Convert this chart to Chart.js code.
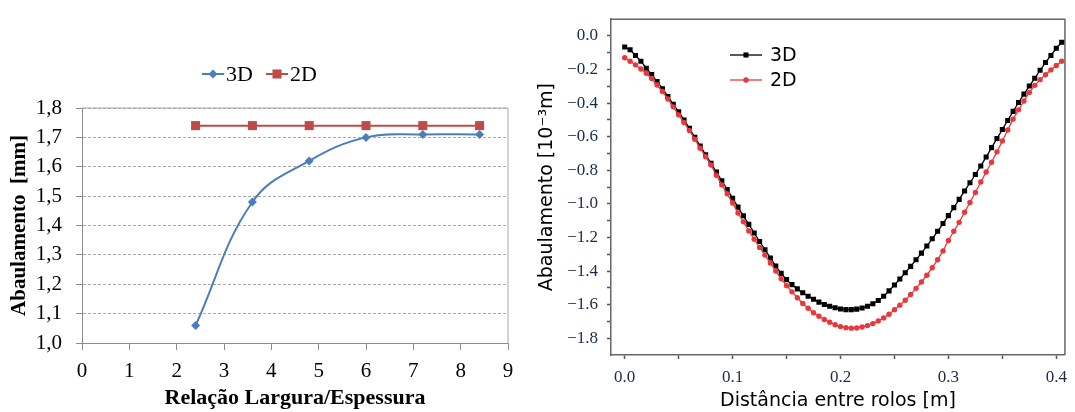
<!DOCTYPE html>
<html>
<head>
    <meta charset="utf-8" />
    <title>Abaulamento 3D x 2D</title>
    <script src="https://cdn.jsdelivr.net/npm/chart.js"></script>
    <style>
        body { margin: 0; background: #fff; }
        #wrap { position: relative; width: 1075px; height: 412px; }
        #leftChart { position: absolute; left: 0; top: 0; }
        #rightChart { position: absolute; left: 530px; top: 0; }
    </style>
</head>
<body>
    <div id="wrap">
        <canvas id="leftChart" width="530" height="412"></canvas>
        <canvas id="rightChart" width="545" height="412"></canvas>
    </div>

    <script>
        // grafico da esquerda: abaulamento x relacao largura/espessura
        const ratioX = [2.4, 3.6, 4.8, 6.0, 7.2, 8.4];
        const crown3D = [1.06, 1.48, 1.62, 1.70, 1.71, 1.71];
        const crown2D = [1.74, 1.74, 1.74, 1.74, 1.74, 1.74];

        // grafico da direita: perfil ao longo da distancia entre rolos
        const distX = [0.000, 0.005, 0.010, 0.015, 0.020, 0.025, 0.030, 0.035, 0.040, 0.045,
            0.050, 0.055, 0.060, 0.065, 0.070, 0.075, 0.080, 0.085, 0.090, 0.095,
            0.100, 0.105, 0.110, 0.115, 0.120, 0.125, 0.130, 0.135, 0.140, 0.145,
            0.150, 0.155, 0.160, 0.165, 0.170, 0.175, 0.180, 0.185, 0.190, 0.195,
            0.200, 0.205, 0.210, 0.215, 0.220, 0.225, 0.230, 0.235, 0.240, 0.245,
            0.250, 0.255, 0.260, 0.265, 0.270, 0.275, 0.280, 0.285, 0.290, 0.295,
            0.300, 0.305, 0.310, 0.315, 0.320, 0.325, 0.330, 0.335, 0.340, 0.345,
            0.350, 0.355, 0.360, 0.365, 0.370, 0.375, 0.380, 0.385, 0.390, 0.395,
            0.400, 0.405];
        const prof3D = [-0.066, -0.082, -0.116, -0.150, -0.192, -0.230, -0.272, -0.314, -0.360, -0.407,
            -0.452, -0.500, -0.550, -0.603, -0.656, -0.707, -0.758, -0.810, -0.862, -0.914,
            -0.966, -1.019, -1.071, -1.122, -1.173, -1.224, -1.273, -1.322, -1.370, -1.414,
            -1.451, -1.481, -1.506, -1.529, -1.550, -1.568, -1.585, -1.599, -1.610, -1.619,
            -1.626, -1.630, -1.630, -1.627, -1.620, -1.610, -1.595, -1.575, -1.550, -1.518,
            -1.483, -1.447, -1.410, -1.372, -1.333, -1.293, -1.251, -1.208, -1.163, -1.117,
            -1.070, -1.022, -0.973, -0.923, -0.874, -0.825, -0.774, -0.721, -0.665, -0.611,
            -0.557, -0.503, -0.449, -0.396, -0.346, -0.298, -0.252, -0.204, -0.158, -0.116,
            -0.073, -0.037];
        const prof2D = [-0.130, -0.150, -0.172, -0.197, -0.222, -0.253, -0.292, -0.331, -0.375, -0.422,
            -0.470, -0.515, -0.563, -0.615, -0.669, -0.719, -0.768, -0.830, -0.887, -0.940,
            -0.995, -1.054, -1.107, -1.161, -1.210, -1.259, -1.305, -1.352, -1.400, -1.446,
            -1.487, -1.524, -1.559, -1.593, -1.622, -1.648, -1.669, -1.689, -1.705, -1.720,
            -1.731, -1.737, -1.740, -1.739, -1.733, -1.725, -1.713, -1.697, -1.679, -1.657,
            -1.630, -1.603, -1.574, -1.540, -1.503, -1.465, -1.425, -1.380, -1.333, -1.280,
            -1.218, -1.163, -1.110, -1.050, -0.992, -0.932, -0.870, -0.810, -0.752, -0.690,
            -0.625, -0.560, -0.495, -0.440, -0.387, -0.336, -0.294, -0.260, -0.231, -0.202,
            -0.176, -0.150];
        const rightYTicks = [0.0, -0.1, -0.2, -0.3, -0.4, -0.5, -0.6, -0.7, -0.8, -0.9,
            -1.0, -1.1, -1.2, -1.3, -1.4, -1.5, -1.6, -1.7, -1.8];
        const rightXTicks = [0.0, 0.05, 0.1, 0.15, 0.2, 0.25, 0.3, 0.35, 0.4];

        function drawMark(ctx, style, r, x, y) {
            ctx.beginPath();
            if (style === 'circle') {
                ctx.arc(x, y, r, 0, Math.PI * 2);
            } else if (style === 'rect') {
                const s = r * Math.SQRT1_2;
                ctx.rect(x - s, y - s, 2 * s, 2 * s);
            } else {
                ctx.moveTo(x - r, y); ctx.lineTo(x, y - r); ctx.lineTo(x + r, y); ctx.lineTo(x, y + r);
                ctx.closePath();
            }
            ctx.fill();
        }

        // moldura do grafico (topo e direita)
        const frame = {
            id: 'frame',
            beforeDatasetsDraw(chart, args, opts) {
                const a = chart.chartArea, ctx = chart.ctx;
                ctx.save();
                ctx.strokeStyle = opts.color;
                ctx.lineWidth = opts.width;
                ctx.beginPath();
                ctx.moveTo(a.left, a.top); ctx.lineTo(a.right, a.top); ctx.lineTo(a.right, a.bottom);
                ctx.stroke();
                ctx.restore();
            }
        };

        // legenda com linha + marcador, na posicao do original
        const inlineLegend = {
            id: 'inlineLegend',
            afterDraw(chart, args, opts) {
                const ctx = chart.ctx;
                ctx.save();
                ctx.font = opts.font;
                ctx.textBaseline = 'middle';
                chart.data.datasets.forEach((ds, i) => {
                    const p = opts.items[i];
                    if (!p) return;
                    ctx.strokeStyle = ds.borderColor;
                    ctx.lineWidth = ds.borderWidth;
                    ctx.beginPath();
                    ctx.moveTo(p.x - opts.lineLen / 2, p.y);
                    ctx.lineTo(p.x + opts.lineLen / 2, p.y);
                    ctx.stroke();
                    ctx.fillStyle = ds.pointBackgroundColor;
                    drawMark(ctx, ds.pointStyle, p.r, p.x, p.y);
                    ctx.fillStyle = opts.color;
                    ctx.fillText(ds.label, p.x + opts.lineLen / 2 + opts.gap, p.y + 1);
                });
                ctx.restore();
            }
        };

        const serif = 'Liberation Serif';

        new Chart(document.getElementById('leftChart').getContext('2d'), {
            type: 'line',
            data: {
                datasets: [{
                    label: '3D',
                    data: ratioX.map((x, i) => ({ x: x, y: crown3D[i] })),
                    borderColor: '#4a7ebb',
                    borderWidth: 2,
                    tension: 0.4,
                    pointStyle: 'rectRot',
                    pointRadius: 4.5,
                    pointBackgroundColor: '#4a7ebb',
                    pointBorderWidth: 0
                }, {
                    label: '2D',
                    data: ratioX.map((x, i) => ({ x: x, y: crown2D[i] })),
                    borderColor: '#be4b48',
                    borderWidth: 2,
                    tension: 0,
                    pointStyle: 'rect',
                    pointRadius: 6.4,
                    pointBackgroundColor: '#be4b48',
                    pointBorderWidth: 0
                }]
            },
            plugins: [frame, inlineLegend],
            options: {
                responsive: false,
                animation: false,
                layout: { padding: { left: 0, top: 108, right: 22, bottom: 0 } },
                plugins: {
                    legend: { display: false },
                    tooltip: { enabled: false },
                    frame: { color: '#a6a6a6', width: 1 },
                    inlineLegend: {
                        font: '22px "Liberation Serif"',
                        color: '#000',
                        lineLen: 22,
                        gap: 2,
                        items: [{ x: 213, y: 74, r: 4.5 }, { x: 277, y: 74, r: 6.4 }]
                    }
                },
                scales: {
                    x: {
                        type: 'linear',
                        min: 0,
                        max: 9,
                        afterFit: s => { s.height = 69; },
                        ticks: { stepSize: 1, autoSkip: false, color: '#000', font: { family: serif, size: 21 }, padding: 9, maxRotation: 0 },
                        grid: { drawOnChartArea: false, drawTicks: true, tickLength: 7, tickColor: '#8c8c8c' },
                        border: { color: '#8c8c8c' },
                        title: {
                            display: true, text: 'Relação Largura/Espessura', color: '#000',
                            font: { family: serif, size: 22, weight: 'bold' }, padding: { top: 0, bottom: 0 }
                        }
                    },
                    y: {
                        min: 1.0,
                        max: 1.8,
                        afterFit: s => { s.width = 82; },
                        ticks: {
                            stepSize: 0.1, autoSkip: false, color: '#000', font: { family: serif, size: 21 }, padding: 14,
                            callback: v => v.toFixed(1).replace('.', ',')
                        },
                        grid: { color: '#a8a8a8', tickLength: 6, tickColor: '#8c8c8c' },
                        border: { color: '#8c8c8c', dash: [3, 2] },
                        title: {
                            display: true, text: 'Abaulamento  [mm]', color: '#000',
                            font: { family: serif, size: 21, weight: 'bold' }, padding: { top: 7, bottom: 0 }
                        }
                    }
                }
            }
        });

        new Chart(document.getElementById('rightChart').getContext('2d'), {
            type: 'line',
            data: {
                datasets: [{
                    label: '3D',
                    data: distX.map((x, i) => ({ x: x, y: prof3D[i] })),
                    borderColor: '#000',
                    borderWidth: 1.3,
                    pointStyle: 'rect',
                    pointRadius: 3.6,
                    pointBackgroundColor: '#000',
                    pointBorderWidth: 0,
                    order: 2
                }, {
                    label: '2D',
                    data: distX.map((x, i) => ({ x: x, y: prof2D[i] })),
                    borderColor: '#e8383d',
                    borderWidth: 1.3,
                    pointStyle: 'circle',
                    pointRadius: 2.7,
                    pointBackgroundColor: '#e8383d',
                    pointBorderWidth: 0,
                    order: 1
                }]
            },
            plugins: [frame, inlineLegend],
            options: {
                responsive: false,
                animation: false,
                layout: { padding: { left: 0, top: 12, right: 3, bottom: 0 } },
                plugins: {
                    legend: { display: false },
                    tooltip: { enabled: false },
                    frame: { color: '#666', width: 1.5 },
                    inlineLegend: {
                        font: '19px "DejaVu Sans"',
                        color: '#000',
                        lineLen: 32,
                        gap: 8,
                        items: [{ x: 216, y: 55, r: 3.6 }, { x: 216, y: 80, r: 2.7 }]
                    }
                },
                scales: {
                    x: {
                        type: 'linear',
                        min: -0.0127,
                        max: 0.408,
                        afterFit: s => { s.height = 57; },
                        afterBuildTicks: s => { s.ticks = rightXTicks.map(v => ({ value: v })); },
                        ticks: {
                            autoSkip: false, maxRotation: 0, color: '#1c2a48', font: { family: serif, size: 17 }, padding: 8,
                            callback: v => (Math.round(v * 100) % 10 === 0 ? v.toFixed(1) : '')
                        },
                        grid: { drawOnChartArea: false, drawTicks: true, tickLength: 4, tickColor: '#555', tickWidth: 1.5 },
                        border: { color: '#666', width: 1.5 },
                        title: {
                            display: true, text: 'Distância entre rolos [m]', color: '#000',
                            font: { family: 'DejaVu Sans', size: 19 }, padding: { top: 0, bottom: 0 }
                        }
                    },
                    y: {
                        min: -1.9,
                        max: 0.1,
                        afterFit: s => { s.width = 81; },
                        afterBuildTicks: s => { s.ticks = rightYTicks.map(v => ({ value: v })); },
                        ticks: {
                            autoSkip: false, color: '#1c2a48', font: { family: serif, size: 17 }, padding: 9,
                            callback: v => (Math.round(v * 10) % 2 === 0 ? v.toFixed(1).replace('-', '\u2212') : '')
                        },
                        grid: { drawOnChartArea: false, drawTicks: true, tickLength: 4, tickColor: '#555', tickWidth: 1.5 },
                        border: { color: '#666', width: 1.5 },
                        title: {
                            display: true, text: 'Abaulamento [10\u207B\u00B3m]', color: '#000',
                            font: { family: 'DejaVu Sans', size: 19 }, padding: { top: 6, bottom: 0 }
                        }
                    }
                }
            }
        });
    </script>
</body>
</html>
